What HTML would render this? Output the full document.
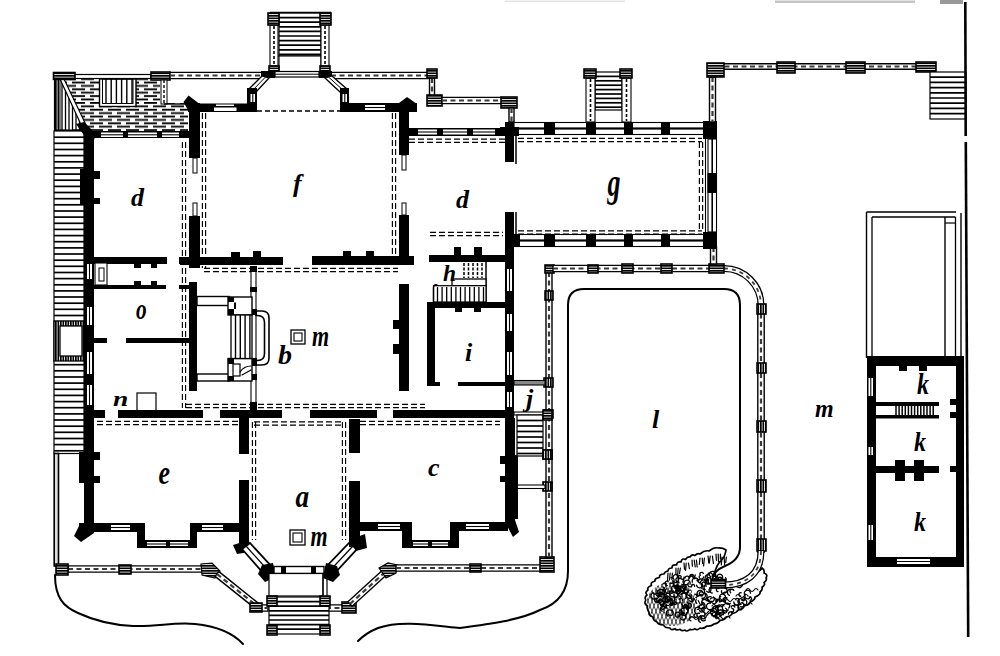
<!DOCTYPE html>
<html><head><meta charset="utf-8"><style>
html,body{margin:0;padding:0;background:#fff;width:1000px;height:656px;overflow:hidden}
svg{display:block}
text{font-family:"Liberation Serif",serif;font-style:italic;font-weight:bold;fill:#000}
</style></head><body>
<svg width="1000" height="656" viewBox="0 0 1000 656">
<defs>
<pattern id="hh" width="4" height="2.5" patternUnits="userSpaceOnUse"><rect width="4" height="2.5" fill="#fff"/><rect width="4" height="1.7" fill="#000"/></pattern>
<pattern id="hv" width="2.5" height="4" patternUnits="userSpaceOnUse"><rect width="2.5" height="4" fill="#fff"/><rect width="1.7" height="4" fill="#000"/></pattern>
<pattern id="ter" width="18" height="6.8" patternUnits="userSpaceOnUse"><rect width="18" height="6.8" fill="#fff"/><rect x="0" y="0" width="13" height="1.8" fill="#000"/><rect x="9" y="3.4" width="13" height="1.8" fill="#000"/><rect x="-9" y="3.4" width="13" height="1.8" fill="#000"/></pattern>
</defs>
<rect width="1000" height="656" fill="#fff"/>
<polygon points="58,78 188,78 188,131 58,131" fill="url(#ter)"/>
<rect x="160" y="79" width="29" height="24" fill="#fff"/>
<rect x="99.5" y="79" width="36.5" height="27.5" fill="#fff" stroke="#000" stroke-width="1.4"/>
<rect x="102.5" y="79" width="30.5" height="24.5" fill="none" stroke="#000" stroke-width="1.0"/>
<line x1="106" y1="79" x2="106" y2="103.5" stroke="#000" stroke-width="1.4"/>
<line x1="111.2" y1="79" x2="111.2" y2="103.5" stroke="#000" stroke-width="1.4"/>
<line x1="116.4" y1="79" x2="116.4" y2="103.5" stroke="#000" stroke-width="1.4"/>
<line x1="121.6" y1="79" x2="121.6" y2="103.5" stroke="#000" stroke-width="1.4"/>
<line x1="126.8" y1="79" x2="126.8" y2="103.5" stroke="#000" stroke-width="1.4"/>
<line x1="132" y1="79" x2="132" y2="103.5" stroke="#000" stroke-width="1.4"/>
<polygon points="54,78 62,79 86,129 54,130" fill="#fff"/>
<line x1="62" y1="82" x2="62" y2="130" stroke="#000" stroke-width="1.3"/>
<line x1="65.5" y1="89" x2="65.5" y2="130" stroke="#000" stroke-width="1.3"/>
<line x1="69" y1="96" x2="69" y2="130" stroke="#000" stroke-width="1.3"/>
<line x1="72.5" y1="103" x2="72.5" y2="130" stroke="#000" stroke-width="1.3"/>
<line x1="76" y1="110" x2="76" y2="130" stroke="#000" stroke-width="1.3"/>
<line x1="79.5" y1="117" x2="79.5" y2="130" stroke="#000" stroke-width="1.3"/>
<rect x="54" y="79" width="6" height="52" fill="url(#hv)"/>
<line x1="54.8" y1="74" x2="54.8" y2="131" stroke="#000" stroke-width="1.8"/>
<line x1="60" y1="79" x2="60" y2="131" stroke="#000" stroke-width="1.0"/>
<polygon points="60,79 64,79 87,127 83,129" fill="#fff" stroke="#000" stroke-width="1.2"/>
<rect x="74" y="74.5" width="77" height="4" fill="#fff" stroke="#000" stroke-width="1.2"/>
<rect x="53.5" y="72.5" width="21.5" height="6.9" fill="url(#hh)" stroke="#000" stroke-width="1.6"/>
<rect x="151" y="72" width="19" height="8" fill="url(#hh)" stroke="#000" stroke-width="1.6"/>
<rect x="161" y="80" width="6" height="24" fill="#fff" stroke="#000" stroke-width="1.0"/>
<line x1="164" y1="80" x2="164" y2="104" stroke="#000" stroke-width="1.4" stroke-dasharray="3 2"/>
<line x1="164" y1="104" x2="189" y2="104" stroke="#000" stroke-width="1.4"/>
<line x1="56" y1="130.8" x2="84" y2="130.8" stroke="#000" stroke-width="2.6"/>
<rect x="54" y="131" width="30" height="322.5" fill="#fff" stroke="#000" stroke-width="1.2"/>
<line x1="54" y1="137.2" x2="84" y2="137.2" stroke="#000" stroke-width="1.7"/>
<line x1="54" y1="143.3" x2="84" y2="143.3" stroke="#000" stroke-width="1.7"/>
<line x1="54" y1="149.5" x2="84" y2="149.5" stroke="#000" stroke-width="1.7"/>
<line x1="54" y1="155.6" x2="84" y2="155.6" stroke="#000" stroke-width="1.7"/>
<line x1="54" y1="161.8" x2="84" y2="161.8" stroke="#000" stroke-width="1.7"/>
<line x1="54" y1="167.9" x2="84" y2="167.9" stroke="#000" stroke-width="1.7"/>
<line x1="54" y1="174.1" x2="84" y2="174.1" stroke="#000" stroke-width="1.7"/>
<line x1="54" y1="180.2" x2="84" y2="180.2" stroke="#000" stroke-width="1.7"/>
<line x1="54" y1="186.4" x2="84" y2="186.4" stroke="#000" stroke-width="1.7"/>
<line x1="54" y1="192.5" x2="84" y2="192.5" stroke="#000" stroke-width="1.7"/>
<line x1="54" y1="198.7" x2="84" y2="198.7" stroke="#000" stroke-width="1.7"/>
<line x1="54" y1="204.8" x2="84" y2="204.8" stroke="#000" stroke-width="1.7"/>
<line x1="54" y1="211" x2="84" y2="211" stroke="#000" stroke-width="1.7"/>
<line x1="54" y1="217.1" x2="84" y2="217.1" stroke="#000" stroke-width="1.7"/>
<line x1="54" y1="223.3" x2="84" y2="223.3" stroke="#000" stroke-width="1.7"/>
<line x1="54" y1="229.4" x2="84" y2="229.4" stroke="#000" stroke-width="1.7"/>
<line x1="54" y1="235.6" x2="84" y2="235.6" stroke="#000" stroke-width="1.7"/>
<line x1="54" y1="241.7" x2="84" y2="241.7" stroke="#000" stroke-width="1.7"/>
<line x1="54" y1="247.9" x2="84" y2="247.9" stroke="#000" stroke-width="1.7"/>
<line x1="54" y1="254" x2="84" y2="254" stroke="#000" stroke-width="1.7"/>
<line x1="54" y1="260.2" x2="84" y2="260.2" stroke="#000" stroke-width="1.7"/>
<line x1="54" y1="266.3" x2="84" y2="266.3" stroke="#000" stroke-width="1.7"/>
<line x1="54" y1="272.5" x2="84" y2="272.5" stroke="#000" stroke-width="1.7"/>
<line x1="54" y1="278.6" x2="84" y2="278.6" stroke="#000" stroke-width="1.7"/>
<line x1="54" y1="284.8" x2="84" y2="284.8" stroke="#000" stroke-width="1.7"/>
<line x1="54" y1="290.9" x2="84" y2="290.9" stroke="#000" stroke-width="1.7"/>
<line x1="54" y1="297" x2="84" y2="297" stroke="#000" stroke-width="1.7"/>
<line x1="54" y1="303.2" x2="84" y2="303.2" stroke="#000" stroke-width="1.7"/>
<line x1="54" y1="309.3" x2="84" y2="309.3" stroke="#000" stroke-width="1.7"/>
<line x1="54" y1="315.5" x2="84" y2="315.5" stroke="#000" stroke-width="1.7"/>
<line x1="54" y1="321.6" x2="84" y2="321.6" stroke="#000" stroke-width="1.7"/>
<line x1="54" y1="327.8" x2="84" y2="327.8" stroke="#000" stroke-width="1.7"/>
<line x1="54" y1="333.9" x2="84" y2="333.9" stroke="#000" stroke-width="1.7"/>
<line x1="54" y1="340.1" x2="84" y2="340.1" stroke="#000" stroke-width="1.7"/>
<line x1="54" y1="346.2" x2="84" y2="346.2" stroke="#000" stroke-width="1.7"/>
<line x1="54" y1="352.4" x2="84" y2="352.4" stroke="#000" stroke-width="1.7"/>
<line x1="54" y1="358.5" x2="84" y2="358.5" stroke="#000" stroke-width="1.7"/>
<line x1="54" y1="364.7" x2="84" y2="364.7" stroke="#000" stroke-width="1.7"/>
<line x1="54" y1="370.8" x2="84" y2="370.8" stroke="#000" stroke-width="1.7"/>
<line x1="54" y1="377" x2="84" y2="377" stroke="#000" stroke-width="1.7"/>
<line x1="54" y1="383.1" x2="84" y2="383.1" stroke="#000" stroke-width="1.7"/>
<line x1="54" y1="389.3" x2="84" y2="389.3" stroke="#000" stroke-width="1.7"/>
<line x1="54" y1="395.4" x2="84" y2="395.4" stroke="#000" stroke-width="1.7"/>
<line x1="54" y1="401.6" x2="84" y2="401.6" stroke="#000" stroke-width="1.7"/>
<line x1="54" y1="407.7" x2="84" y2="407.7" stroke="#000" stroke-width="1.7"/>
<line x1="54" y1="413.9" x2="84" y2="413.9" stroke="#000" stroke-width="1.7"/>
<line x1="54" y1="420" x2="84" y2="420" stroke="#000" stroke-width="1.7"/>
<line x1="54" y1="426.2" x2="84" y2="426.2" stroke="#000" stroke-width="1.7"/>
<line x1="54" y1="432.3" x2="84" y2="432.3" stroke="#000" stroke-width="1.7"/>
<line x1="54" y1="438.5" x2="84" y2="438.5" stroke="#000" stroke-width="1.7"/>
<line x1="54" y1="444.6" x2="84" y2="444.6" stroke="#000" stroke-width="1.7"/>
<line x1="54" y1="450.8" x2="84" y2="450.8" stroke="#000" stroke-width="1.7"/>
<rect x="54" y="321" width="30" height="40" fill="url(#hv)"/>
<rect x="54" y="321" width="30" height="40" fill="none" stroke="#000" stroke-width="1.3"/>
<rect x="60" y="326" width="22" height="30" fill="#fff" stroke="#000" stroke-width="1.3"/>
<rect x="54.2" y="453.5" width="4.3" height="112.5" fill="#ddd" stroke="#000" stroke-width="1.6"/>
<polygon points="68,572.1 202,572.1 202,565.9 68,565.9" fill="#fff" stroke="#000" stroke-width="1.4"/>
<line x1="68" y1="569" x2="202" y2="569" stroke="#3a3a3a" stroke-width="2.2" stroke-dasharray="5 3.5"/>
<rect x="119" y="565" width="12" height="9" fill="url(#hh)" stroke="#000" stroke-width="1.6"/>
<rect x="56" y="564" width="12" height="11" fill="url(#hh)" stroke="#000" stroke-width="1.6"/>
<polygon points="201,564 212,563 220,571 215,578 202,575" fill="url(#hh)" stroke="#000" stroke-width="1.2"/>
<polygon points="215.1,576.4 255.1,608.4 258.9,603.6 218.9,571.6" fill="#fff" stroke="#000" stroke-width="1.4"/>
<line x1="217" y1="574" x2="257" y2="606" stroke="#3a3a3a" stroke-width="2.2" stroke-dasharray="5 3.5"/>
<polygon points="256,611.1 268,611.1 268,604.9 256,604.9" fill="#fff" stroke="#000" stroke-width="1.4"/>
<line x1="256" y1="608" x2="268" y2="608" stroke="#3a3a3a" stroke-width="2.2" stroke-dasharray="5 3.5"/>
<rect x="250" y="603" width="12" height="9" fill="url(#hh)" stroke="#000" stroke-width="1.6"/>
<polygon points="326,611.1 343,611.1 343,604.9 326,604.9" fill="#fff" stroke="#000" stroke-width="1.4"/>
<line x1="326" y1="608" x2="343" y2="608" stroke="#3a3a3a" stroke-width="2.2" stroke-dasharray="5 3.5"/>
<rect x="342" y="602" width="14" height="11" fill="url(#hh)" stroke="#000" stroke-width="1.6"/>
<polygon points="352.1,606.3 386.1,575.3 381.9,570.7 347.9,601.7" fill="#fff" stroke="#000" stroke-width="1.4"/>
<line x1="350" y1="604" x2="384" y2="573" stroke="#3a3a3a" stroke-width="2.2" stroke-dasharray="5 3.5"/>
<polygon points="379,568 388,563 397,565 396,573 386,578" fill="url(#hh)" stroke="#000" stroke-width="1.2"/>
<polygon points="396,571.1 543,571.1 543,564.9 396,564.9" fill="#fff" stroke="#000" stroke-width="1.4"/>
<line x1="396" y1="568" x2="543" y2="568" stroke="#3a3a3a" stroke-width="2.2" stroke-dasharray="5 3.5"/>
<rect x="470" y="564" width="11" height="8" fill="url(#hh)" stroke="#000" stroke-width="1.6"/>
<rect x="540" y="557" width="14" height="15" fill="url(#hh)" stroke="#000" stroke-width="1.6"/>
<polygon points="546,272 546,557 552,557 552,272" fill="#fff" stroke="#000" stroke-width="1.4"/>
<line x1="549" y1="272" x2="549" y2="557" stroke="#3a3a3a" stroke-width="2.2" stroke-dasharray="5 3.5"/>
<rect x="545" y="265" width="9" height="8" fill="url(#hh)" stroke="#000" stroke-width="1.6"/>
<rect x="545" y="291" width="8" height="9" fill="url(#hv)" stroke="#000" stroke-width="1.6"/>
<rect x="544" y="378" width="9" height="9" fill="url(#hv)" stroke="#000" stroke-width="1.6"/>
<rect x="544" y="410" width="9" height="8" fill="url(#hv)" stroke="#000" stroke-width="1.6"/>
<rect x="543" y="450" width="9" height="9" fill="url(#hv)" stroke="#000" stroke-width="1.6"/>
<rect x="543" y="482" width="9" height="9" fill="url(#hv)" stroke="#000" stroke-width="1.6"/>
<rect x="514" y="380.5" width="31" height="4.5" fill="#888" stroke="#000" stroke-width="1.1"/>
<rect x="514" y="412" width="31" height="3" fill="#fff" stroke="#000" stroke-width="1.1"/>
<rect x="515" y="485" width="30" height="3.5" fill="#fff" stroke="#000" stroke-width="1.1"/>
<path d="M646,600 Q643.8,597.6 647,595 Q644.5,592.3 648,590 Q646.7,587.3 651.5,585.5 Q650,582.4 655,581 Q654.5,578.2 659.5,577.5 Q658.8,574.2 664,574 Q664.7,571.6 668,571 Q668.1,567.9 672,568 Q671.9,564 676.5,565 Q677.1,561.2 681,562 Q681.7,557.8 685.5,559.5 Q687.1,556.6 690,557 Q691.9,553.9 695,555.5 Q697.3,552.8 700,554 Q704.6,549.9 709,551 Q714.1,546.9 718,548 Q722.6,547.6 726,550 Q725.9,551.8 724,557 Q723.2,557.4 720.5,561.5 Q720.3,560.8 717,566 Q717.4,565.8 715,571 Q714.9,571.9 713,576 Q717,575.5 717.3,580 Q720.9,580.9 721.7,584 Q726.3,584.9 726,588 Q730.8,586.6 732.3,586.3 Q736.9,585.1 738.7,584.7 Q744.9,582.9 745,583 Q748.9,580.5 749.2,579.2 Q753.2,576.7 753.5,575.5 Q758.8,572.3 757.8,571.8 Q762.8,568.5 762,568 Q764.9,569.7 764,573 Q768.3,574.4 766,578 Q767.5,579.7 764,582.7 Q765.8,584.5 762,587.3 Q762.9,589.5 760,592 Q760.9,594.4 755,597 Q755.4,599.7 750,602 Q750.4,604.6 744,606 Q744.1,609 738,610 Q736.9,612.7 732,613.5 Q730.8,616.5 726,617 Q724.2,620.1 720,620.5 Q717.9,623.8 714,624 Q711,626.6 707,626 Q703.6,629.1 700,628 Q697.1,631 695,628.7 Q692.1,630.4 690,629.3 Q686.4,632.3 685,630 Q681.4,631.5 680,629.3 Q676.2,630.7 675,628.7 Q670.4,630.7 670,628 Q664.9,628.1 663.5,625 Q658.5,624.7 657,622 Q652.8,620.6 653,617 Q648.3,615.5 649,612 Q646.7,609.4 647.5,606 Q643.3,603.4 646,600" fill="#fff" stroke="#000" stroke-width="1.7" stroke-linejoin="round"/>
<path d="M710.7,576.6 A1.9,1.9 0 1 1 707.8,574.4 M666.4,604.9 A1.8,1.8 0 1 1 663.2,603.3 M716.7,615.6 A2.3,2.3 0 1 1 712.7,613.3 M706.1,614.8 A3,3 0 1 1 700.3,615.6 M720,613.8 A2.4,2.4 0 1 1 718,609.6 M700.4,575.4 A1.8,1.8 0 1 1 703.3,573.4 M718,591.6 A1.7,1.7 0 1 1 719,588.5 M689,603.1 A2.5,2.5 0 1 1 687.6,607.7 M720.3,609.8 A2.8,2.8 0 1 1 719.7,615.3 M717.6,607.4 A1.8,1.8 0 1 1 721.1,606.7 M725.2,602.4 A2.4,2.4 0 1 1 725.3,597.6 M661.2,592.7 A2.7,2.7 0 1 1 656,593.2 M717.5,579 A2.7,2.7 0 1 1 721.9,581.9 M713.5,597 A2.8,2.8 0 1 1 708.8,599.6 M692.1,584.4 A2.1,2.1 0 1 1 688,584.4 M700.1,583.8 A3.5,3.5 0 1 1 706.9,584.6 M677.5,589.2 A2.7,2.7 0 1 1 682.8,588.3 M679.3,611.1 A1.5,1.5 0 1 1 682.1,612.2 M714.7,611.4 A3,3 0 1 1 717.5,606.1 M705.3,578.1 A2.6,2.6 0 1 1 710.3,577.9 M688.4,610.2 A1.6,1.6 0 1 1 689,607.2 M744.7,594.8 A3.1,3.1 0 1 1 750.5,593.2 M742.1,602.8 A2.1,2.1 0 1 1 740.6,606.6 M702.8,595.5 A2.2,2.2 0 1 1 701.1,591.6 M714.4,611.9 A2,2 0 1 1 712.2,615.1 M739.6,602 A2.9,2.9 0 1 1 733.8,601.8 M674.5,603.3 A2.9,2.9 0 1 1 671.5,598.3 M663.5,597.1 A1.8,1.8 0 1 1 665.6,600.1 M656.6,598.2 A3.3,3.3 0 1 1 653.3,592.7 M710.1,601.8 A2.6,2.6 0 1 1 711.1,596.8 M730.7,592.7 A2,2 0 1 1 733.8,590.4 M730.3,603.3 A2.8,2.8 0 1 1 726.2,599.5 M658.7,597.5 A3.3,3.3 0 1 1 665.1,597.9 M687,613.5 A3,3 0 1 1 681.9,610.6 M720.8,616.5 A2.7,2.7 0 1 1 724.8,612.9 M717.6,576.9 A1.8,1.8 0 1 1 715.4,579.6 M717.4,612.8 A3.2,3.2 0 1 1 723.4,614.6 M703.7,608.2 A2.4,2.4 0 1 1 699.6,610.6 M718.3,586 A1.7,1.7 0 1 1 717,582.9 M690.9,620.9 A2,2 0 1 1 692.2,617.2 M672.1,591.1 A3.3,3.3 0 1 1 677.3,587.1 M660.8,600 A2.8,2.8 0 1 1 660.6,605.6 M682.3,584.7 A3,3 0 1 1 682.5,590.5 M737.9,583 A2.6,2.6 0 1 1 732.8,582.4 M707.4,577.6 A1.6,1.6 0 1 1 704.5,579.1 M695.2,575 A1.6,1.6 0 1 1 692.1,575 M670.3,592 A2.6,2.6 0 1 1 666.5,588.7 M713.5,616.7 A1.5,1.5 0 1 1 716.3,618 M702.1,592.7 A2.8,2.8 0 1 1 701.9,598.1 M697.6,616.4 A1.7,1.7 0 1 1 699.5,613.5 M695.5,594.3 A1.6,1.6 0 1 1 695.9,597.5 M679.1,582.6 A2.3,2.3 0 1 1 681.6,578.7 M694.7,578.8 A1.5,1.5 0 1 1 697,580.7 M741.8,609.5 A2.6,2.6 0 1 1 740.3,604.7 M702.4,583.8 A3,3 0 1 1 696.6,585.1 M742.6,584.6 A3.5,3.5 0 1 1 736.3,582 M676.9,575.8 A3.5,3.5 0 1 1 672.3,580.8 M744.1,597.4 A1.8,1.8 0 1 1 741.8,600.1 M672.2,610.4 A2.9,2.9 0 1 1 667.8,614 M716.3,612.7 A1.5,1.5 0 1 1 719.2,613.5 M690,577.5 A2.1,2.1 0 1 1 693.6,575.3 M702.7,602.3 A3.5,3.5 0 1 1 698.9,607.9 M673.3,590.9 A2,2 0 1 1 669.4,590.9 M709.9,584 A2.3,2.3 0 1 1 708.7,579.6 M749.3,597 A1.7,1.7 0 1 1 750,600.3 M710.7,609.5 A3.3,3.3 0 1 1 710.4,603.1 M668.6,600.8 A1.9,1.9 0 1 1 665.3,598.8 M731.6,582.2 A2.6,2.6 0 1 1 727.1,584.3 M661.6,596.5 A1.9,1.9 0 1 1 660.9,592.9 M684.1,619.9 A3.4,3.4 0 1 1 684.4,613.4 M664.8,595.8 A3,3 0 1 1 664.2,601.7 M671,577.6 A2.9,2.9 0 1 1 670.2,583.2 M707,582.4 A2.7,2.7 0 1 1 711.3,579.4 M731.4,607 A1.7,1.7 0 1 1 734.8,607.2 M709.3,574.1 A3.2,3.2 0 1 1 715.3,576 M676.3,603.8 A2,2 0 1 1 673.5,601 M699.6,582.7 A1.6,1.6 0 1 1 699.6,579.5 M725.4,588.3 A2.3,2.3 0 1 1 723.8,592.6 M720.4,598.8 A1.5,1.5 0 1 1 719.5,601.7 M667.5,592.9 A2.9,2.9 0 1 1 663.3,589.1 M658.2,601.2 A2.2,2.2 0 1 1 662.6,601.4 M674.7,592.6 A2.6,2.6 0 1 1 674.4,597.7 M663.2,587.1 A1.5,1.5 0 1 1 662.3,589.9 M689.2,578.9 A2.1,2.1 0 1 1 693.3,578.4 M729.4,595.4 A3.3,3.3 0 1 1 732.5,589.6 M707.6,615.1 A2.2,2.2 0 1 1 711.9,615.7 M733.5,606.1 A3.2,3.2 0 1 1 737.1,611.2 M693,598.4 A2,2 0 1 1 689.7,600.6 M705.4,620 A2.7,2.7 0 1 1 702.1,615.8 M719.9,619.1 A3,3 0 1 1 721.2,613.4 M715.8,601.5 A1.8,1.8 0 1 1 719.3,602 M674.9,588.4 A3.3,3.3 0 1 1 680.5,591.7 M680.2,602.1 A3.4,3.4 0 1 1 676.1,596.8 M662.1,600.9 A2.7,2.7 0 1 1 657.4,598.4 M718.2,609.1 A2.3,2.3 0 1 1 721,605.5 M657.5,591.9 A3.5,3.5 0 1 1 663.7,594.9 M686.2,614.2 A1.8,1.8 0 1 1 683.1,612.5 M712.2,593 A3,3 0 1 1 713.4,587.3 M728.2,610 A3.5,3.5 0 1 1 724.6,604.2 M666.2,607.8 A2.7,2.7 0 1 1 667.2,602.6 M717.1,599 A3.2,3.2 0 1 1 711.1,601.1 M678,578.2 A1.8,1.8 0 1 1 681.3,577.1 M665.3,601.8 A3,3 0 1 1 659.6,600.7 M742.1,599.4 A3.2,3.2 0 1 1 743.9,605.4 M683.9,605.7 A2.9,2.9 0 1 1 687.5,610.2 M741.2,604.2 A2.8,2.8 0 1 1 741.5,598.8 M702.4,587.2 A3,3 0 1 1 707.1,583.8 M717.5,610.7 A2.9,2.9 0 1 1 712.7,607.6 M678.8,616 A1.6,1.6 0 1 1 675.7,615.2 M701.7,588.6 A3.1,3.1 0 1 1 700,594.4 M691.6,586.7 A1.6,1.6 0 1 1 694.6,586.4 M725.7,608.3 A2.6,2.6 0 1 1 722.3,612 M717.9,579.6 A2.1,2.1 0 1 1 713.9,578.7 M663.2,583.9 A1.5,1.5 0 1 1 665.9,585.3 M712.4,610.5 A3.1,3.1 0 1 1 718.5,609.7 M720,598.8 A3,3 0 1 1 725.4,596.5 M683,615.2 A2.1,2.1 0 1 1 684.1,619.2 M664.2,590 A2.8,2.8 0 1 1 659.1,591.9 M705.2,589.5 A1.8,1.8 0 1 1 706.4,586.1 M672.5,602.5 A1.7,1.7 0 1 1 669.9,604.6 M687.8,605.3 A3.2,3.2 0 1 1 682.3,602 M675.4,614.4 A2.2,2.2 0 1 1 679.6,615.3 M723.2,600.5 A2.4,2.4 0 1 1 720.7,596.6 M695.4,617.5 A2.2,2.2 0 1 1 698.4,620.7 M698,606.1 A1.7,1.7 0 1 1 697.3,609.4 M659.9,600.2 A2.8,2.8 0 1 1 654.8,598.1 M686.9,602 A3.2,3.2 0 1 1 682.6,606.6 M716.3,618.6 A2.4,2.4 0 1 1 719.1,614.7 M662.2,611.2 A2.4,2.4 0 1 1 663.8,606.7 M667.3,585.6 A2.3,2.3 0 1 1 668.3,581.2 M704.5,592.9 A3.3,3.3 0 1 1 702.2,599 M684,577 A1.8,1.8 0 1 1 680.5,577.8 M680.6,591.8 A1.9,1.9 0 1 1 676.7,591.4 M667.1,608.1 A1.5,1.5 0 1 1 668.6,605.5 M712.4,581.6 A2.1,2.1 0 1 1 708.7,580 M677.1,588.4 A1.7,1.7 0 1 1 677.7,585.2 M712.9,574.9 A2.1,2.1 0 1 1 715.1,578.5 M670.7,600.4 A2.1,2.1 0 1 1 670.5,604.5 M658.4,597.2 A3,3 0 1 1 664.2,597.8 M698.5,595.9 A3,3 0 1 1 702.6,591.7 M680.8,597.1 A2.8,2.8 0 1 1 683.7,592.5 M681.1,589.8 A2.8,2.8 0 1 1 678.2,585.2 M699.5,593.8 A1.7,1.7 0 1 1 696.3,594.7 M725.5,601.4 A2,2 0 1 1 726.9,597.8 M675.9,586.9 A1.8,1.8 0 1 1 677.1,590.3 M702.6,604.5 A2.9,2.9 0 1 1 707.1,601 M725.5,603.6 A2.7,2.7 0 1 1 728.7,608 M673.7,586.5 A2.9,2.9 0 1 1 672.1,592 M684.5,604.6 A1.7,1.7 0 1 1 683.4,607.7 M683.5,608.4 A2.8,2.8 0 1 1 686.3,613.2 M703.6,577 A2.2,2.2 0 1 1 699.3,576.2 M683.2,612.6 A2.2,2.2 0 1 1 684,608.3 M679.1,599.5 A1.7,1.7 0 1 1 682.4,600.6 M695.9,613.2 A3.2,3.2 0 1 1 699.5,607.9 M728.5,614.1 A2.1,2.1 0 1 1 732.7,613.9 M707.7,574.9 A2.4,2.4 0 1 1 712.2,576.3 M677.3,584.1 A2,2 0 1 1 673.5,583.5 M725,591.9 A1.8,1.8 0 1 1 721.7,590.7 M679.9,589.8 A3.2,3.2 0 1 1 686.2,590.2 M750.5,596.8 A2.9,2.9 0 1 1 745.4,594.2 M695.9,617.5 A1.9,1.9 0 1 1 696.2,613.7 M657,590.2 A2.4,2.4 0 1 1 652.8,592.4 M700.5,622.4 A3.5,3.5 0 1 1 704.6,617 M685,578 A2,2 0 1 1 688.7,579.1 M701.7,608.7 A1.9,1.9 0 1 1 701.6,605 M684,583.5 A3.1,3.1 0 1 1 690,584.3 M717.9,578 A2.1,2.1 0 1 1 720.7,581.1 M725.6,577.6 A2.9,2.9 0 1 1 720.5,579.8 M710.5,598.9 A3.3,3.3 0 1 1 714.7,603.8 M716.2,609.8 A2,2 0 1 1 718.8,606.7 M657.7,593.9 A3.5,3.5 0 1 1 661.7,599.3 M703.7,581.8 A2.2,2.2 0 1 1 702.7,586.1 M663.4,605.9 A1.8,1.8 0 1 1 661.4,608.8 M731.9,608.3 A1.8,1.8 0 1 1 731.1,611.7 M674.2,602.8 A2,2 0 1 1 670.2,602 M714.6,615.5 A3.5,3.5 0 1 1 714.9,608.7 M716.2,584.9 A2.9,2.9 0 1 1 721,582 M702.9,611.8 A2.2,2.2 0 1 1 702.1,616.1 M668,616.3 A3.4,3.4 0 1 1 672.2,611.1 M688.6,582.8 A2.9,2.9 0 1 1 684,579.6 M702.5,610.8 A2,2 0 1 1 705.6,608.5 M669.6,601 A1.5,1.5 0 1 1 672,599.3 M675.6,587.2 A2.6,2.6 0 1 1 677.1,592.1 M680.8,594.8 A3.1,3.1 0 1 1 685.6,598.5 M678.9,582 A2.4,2.4 0 1 1 678.6,577.3 M674.8,596 A3.3,3.3 0 1 1 671.8,590.3 M673.1,577.1 A2.9,2.9 0 1 1 678.5,578.8 M725.5,585.6 A2,2 0 1 1 729.2,584.3 M691.4,594.8 A2.4,2.4 0 1 1 687.2,597 M740.6,596.1 A1.7,1.7 0 1 1 741.2,592.8 M664.8,596.6 A3.2,3.2 0 1 1 667.5,602.2 M692.3,582.2 A3.3,3.3 0 1 1 698.7,580.7 M735.8,599 A1.9,1.9 0 1 1 738.8,601.4 M678.1,579.6 A2.3,2.3 0 1 1 673.6,580.9 M688.6,591.5 A2.3,2.3 0 1 1 684.9,589 M716,583.6 A2.6,2.6 0 1 1 714.6,578.6 M709.7,587.7 A2.4,2.4 0 1 1 706.7,591.3 M717.2,576.1 A2.8,2.8 0 1 1 722,578.8 M683.4,585.9 A2.8,2.8 0 1 1 678.8,588.9 M689.9,595.7 A2.8,2.8 0 1 1 690.6,590.2" fill="none" stroke="#000" stroke-width="1.3" stroke-linecap="round"/>
<path d="M668,573 l-0.5,7.8 M670.2,573 l-0.7,7 M672.4,573 l-0.5,6.5 M676,568 l-0.1,5.7 M678.2,568 l-0.6,7.9 M680.4,568 l-0.9,5.4 M684,563 l0.5,6.1 M686.2,563 l-0.6,7.3 M688.4,563 l1,5.6 M692,560 l0.4,6.2 M694.2,560 l1,6.8 M696.4,560 l0.8,7 M700,558 l-0.7,6.3 M702.2,558 l0.4,5.5 M704.4,558 l-0.8,8 M708,556 l0.8,7 M710.2,556 l-0.9,7.1 M712.4,556 l1,7.3 M716,554 l0.4,6.3 M718.2,554 l0.3,7.8 M720.4,554 l-0,5.2 M722,557 l-0.7,7.9 M724.2,557 l0.4,7.8 M726.4,557 l-0.7,5.3 M700,612 q2,-3 4,0 q2,3 4,0 q2,-3 4,0 M712,606 q2,-3 4,0 q2,3 4,0 q2,-3 4,0 M724,600 q2,-3 4,0 q2,3 4,0 q2,-3 4,0 M736,596 q2,-3 4,0 q2,3 4,0 q2,-3 4,0 M746,590 q2,-3 4,0 q2,3 4,0 q2,-3 4,0 M690,618 q2,-3 4,0 q2,3 4,0 q2,-3 4,0 M718,618 q2,-3 4,0 q2,3 4,0 q2,-3 4,0 M740,604 q2,-3 4,0 q2,3 4,0 q2,-3 4,0" fill="none" stroke="#000" stroke-width="1.2" stroke-linecap="round"/>
<clipPath id="bl"><ellipse cx="672" cy="604" rx="26" ry="22"/></clipPath>
<path clip-path="url(#bl)" d="M616,580 L636,632 M636,580 L616,632 M620,580 L640,632 M640,580 L620,632 M624,580 L644,632 M644,580 L624,632 M628,580 L648,632 M648,580 L628,632 M632,580 L652,632 M652,580 L632,632 M636,580 L656,632 M656,580 L636,632 M640,580 L660,632 M660,580 L640,632 M644,580 L664,632 M664,580 L644,632 M648,580 L668,632 M668,580 L648,632 M652,580 L672,632 M672,580 L652,632 M656,580 L676,632 M676,580 L656,632 M660,580 L680,632 M680,580 L660,632 M664,580 L684,632 M684,580 L664,632 M668,580 L688,632 M688,580 L668,632 M672,580 L692,632 M692,580 L672,632 M676,580 L696,632 M696,580 L676,632 M680,580 L700,632 M700,580 L680,632 M684,580 L704,632 M704,580 L684,632" stroke="#000" stroke-width="0.9" fill="none" opacity="0.8"/>
<line x1="690" y1="596" x2="693" y2="602" stroke="#000" stroke-width="1.1"/>
<line x1="694" y1="598" x2="697" y2="604" stroke="#000" stroke-width="1.1"/>
<line x1="698" y1="600" x2="701" y2="606" stroke="#000" stroke-width="1.1"/>
<line x1="702" y1="602" x2="705" y2="608" stroke="#000" stroke-width="1.1"/>
<polygon points="553,271.6 712,271.6 712,265.4 553,265.4" fill="#fff" stroke="#000" stroke-width="1.4"/>
<line x1="553" y1="268.5" x2="712" y2="268.5" stroke="#3a3a3a" stroke-width="2.2" stroke-dasharray="5 3.5"/>
<rect x="588" y="265" width="10" height="8" fill="url(#hh)" stroke="#000" stroke-width="1.6"/>
<rect x="622" y="264" width="11" height="9" fill="url(#hh)" stroke="#000" stroke-width="1.6"/>
<rect x="661" y="264" width="11" height="9" fill="url(#hh)" stroke="#000" stroke-width="1.6"/>
<path d="M724,268.5 A37,37 0 0 1 761,305.5" fill="none" stroke="#000" stroke-width="7"/>
<path d="M724,268.5 A37,37 0 0 1 761,305.5" fill="none" stroke="#fff" stroke-width="4.4"/>
<path d="M724,268.5 A37,37 0 0 1 761,305.5" fill="none" stroke="#000" stroke-width="1.8" stroke-dasharray="4 4" stroke-opacity="0.75"/>
<rect x="709" y="264" width="15" height="9" fill="url(#hh)" stroke="#000" stroke-width="1.6"/>
<polygon points="710.5,247 710.5,264 716.5,264 716.5,247" fill="#fff" stroke="#000" stroke-width="1.4"/>
<line x1="713.5" y1="247" x2="713.5" y2="264" stroke="#3a3a3a" stroke-width="2.2" stroke-dasharray="5 3.5"/>
<polygon points="757.8,305 757.8,552 764.2,552 764.2,305" fill="#fff" stroke="#000" stroke-width="1.4"/>
<line x1="761" y1="305" x2="761" y2="552" stroke="#3a3a3a" stroke-width="2.2" stroke-dasharray="5 3.5"/>
<rect x="757" y="304" width="9" height="10" fill="url(#hv)" stroke="#000" stroke-width="1.6"/>
<rect x="757" y="363" width="9" height="10" fill="url(#hv)" stroke="#000" stroke-width="1.6"/>
<rect x="757" y="421" width="9" height="11" fill="url(#hv)" stroke="#000" stroke-width="1.6"/>
<rect x="757" y="480" width="9" height="12" fill="url(#hv)" stroke="#000" stroke-width="1.6"/>
<rect x="757" y="539" width="9" height="12" fill="url(#hv)" stroke="#000" stroke-width="1.6"/>
<path d="M761,551 C761,575 745,585 724,585" fill="none" stroke="#000" stroke-width="7"/>
<path d="M761,551 C761,575 745,585 724,585" fill="none" stroke="#fff" stroke-width="4.4"/>
<path d="M761,551 C761,575 745,585 724,585" fill="none" stroke="#000" stroke-width="1.8" stroke-dasharray="4 4" stroke-opacity="0.75"/>
<rect x="711" y="579.5" width="14.5" height="8.5" fill="url(#hh)" stroke="#000" stroke-width="1.6"/>
<path d="M568,571 L568,305 Q568,289 584,289 L724,289 Q740,289 740,305 L740,547 Q740,560 725,566 Q713,571 712,580" fill="none" stroke="#000" stroke-width="2.0" stroke-linecap="round" stroke-linejoin="round"/>
<path d="M568,571 C568,595 555,605 540,610 C520,620 490,624 460,628 C430,625 400,620 378,628 C368,632 362,637 358,641" fill="none" stroke="#000" stroke-width="2.0" stroke-linecap="round" stroke-linejoin="round"/>
<polygon points="170,78.6 262,78.6 262,72.4 170,72.4" fill="#fff" stroke="#000" stroke-width="1.4"/>
<line x1="170" y1="75.5" x2="262" y2="75.5" stroke="#3a3a3a" stroke-width="2.2" stroke-dasharray="5 3.5"/>
<polygon points="331,78.6 428,78.6 428,72.4 331,72.4" fill="#fff" stroke="#000" stroke-width="1.4"/>
<line x1="331" y1="75.5" x2="428" y2="75.5" stroke="#3a3a3a" stroke-width="2.2" stroke-dasharray="5 3.5"/>
<rect x="279" y="13" width="42" height="43" fill="#fff" stroke="#000" stroke-width="1.2"/>
<line x1="279" y1="17.6" x2="321" y2="17.6" stroke="#000" stroke-width="1.7"/>
<line x1="279" y1="22.2" x2="321" y2="22.2" stroke="#000" stroke-width="1.7"/>
<line x1="279" y1="26.8" x2="321" y2="26.8" stroke="#000" stroke-width="1.7"/>
<line x1="279" y1="31.4" x2="321" y2="31.4" stroke="#000" stroke-width="1.7"/>
<line x1="279" y1="36" x2="321" y2="36" stroke="#000" stroke-width="1.7"/>
<line x1="279" y1="40.6" x2="321" y2="40.6" stroke="#000" stroke-width="1.7"/>
<line x1="279" y1="45.2" x2="321" y2="45.2" stroke="#000" stroke-width="1.7"/>
<line x1="279" y1="49.8" x2="321" y2="49.8" stroke="#000" stroke-width="1.7"/>
<line x1="279" y1="54.4" x2="321" y2="54.4" stroke="#000" stroke-width="1.7"/>
<rect x="279" y="56" width="42" height="16" fill="#fff" stroke="#000" stroke-width="1.1"/>
<line x1="270" y1="12.5" x2="331" y2="12.5" stroke="#000" stroke-width="1.6"/>
<rect x="270" y="25" width="8" height="41" fill="#fff" stroke="#000" stroke-width="1.1"/>
<line x1="274" y1="26" x2="274" y2="65" stroke="#000" stroke-width="1.6" stroke-dasharray="3 2"/>
<rect x="321" y="25" width="8" height="41" fill="#fff" stroke="#000" stroke-width="1.1"/>
<line x1="325" y1="26" x2="325" y2="65" stroke="#000" stroke-width="1.6" stroke-dasharray="3 2"/>
<rect x="268" y="13" width="11" height="12" fill="url(#hh)" stroke="#000" stroke-width="1.6"/>
<rect x="320" y="13" width="11" height="12" fill="url(#hh)" stroke="#000" stroke-width="1.6"/>
<rect x="269" y="66" width="10" height="7" fill="url(#hh)" stroke="#000" stroke-width="1.6"/>
<rect x="320" y="66" width="10" height="7" fill="url(#hh)" stroke="#000" stroke-width="1.6"/>
<rect x="261" y="71" width="14" height="7" fill="#000"/>
<rect x="319" y="71" width="13" height="7" fill="#000"/>
<rect x="275" y="71.5" width="44" height="5.5" fill="#fff" stroke="#000" stroke-width="1.2"/>
<line x1="275" y1="74.2" x2="319" y2="74.2" stroke="#000" stroke-width="1.0"/>
<polygon points="262,76 269,78 256,92 248,90" fill="#fff" stroke="#000" stroke-width="1.3"/>
<line x1="265.5" y1="77" x2="252" y2="91" stroke="#000" stroke-width="1.0"/>
<polygon points="332,76 325,78 340,92 348,90" fill="#fff" stroke="#000" stroke-width="1.3"/>
<line x1="328.5" y1="77" x2="344" y2="91" stroke="#000" stroke-width="1.0"/>
<rect x="247" y="88" width="10" height="24" fill="#000"/>
<rect x="250.5" y="94" width="4.5" height="8" fill="#fff"/>
<line x1="252.8" y1="94" x2="252.8" y2="102" stroke="#000" stroke-width="1.1"/>
<rect x="340" y="88" width="9" height="24" fill="#000"/>
<rect x="342.5" y="94" width="4.5" height="8" fill="#fff"/>
<line x1="344.8" y1="94" x2="344.8" y2="102" stroke="#000" stroke-width="1.1"/>
<polygon points="429.5,78 429.5,96 434.5,96 434.5,78" fill="#fff" stroke="#000" stroke-width="1.4"/>
<line x1="432" y1="78" x2="432" y2="96" stroke="#3a3a3a" stroke-width="2.2" stroke-dasharray="5 3.5"/>
<rect x="427" y="69" width="10" height="9" fill="url(#hh)" stroke="#000" stroke-width="1.6"/>
<rect x="427" y="95" width="15" height="11" fill="url(#hh)" stroke="#000" stroke-width="1.6"/>
<polygon points="442,103.6 502,103.6 502,97.4 442,97.4" fill="#fff" stroke="#000" stroke-width="1.4"/>
<line x1="442" y1="100.5" x2="502" y2="100.5" stroke="#3a3a3a" stroke-width="2.2" stroke-dasharray="5 3.5"/>
<rect x="501" y="97" width="16" height="11" fill="url(#hh)" stroke="#000" stroke-width="1.6"/>
<polygon points="509,108 509,122 514,122 514,108" fill="#fff" stroke="#000" stroke-width="1.4"/>
<line x1="511.5" y1="108" x2="511.5" y2="122" stroke="#3a3a3a" stroke-width="2.2" stroke-dasharray="5 3.5"/>
<rect x="188" y="103.5" width="69" height="8.5" fill="#000"/>
<rect x="214" y="107.5" width="22.5" height="3.5" fill="#fff"/>
<rect x="216" y="104.5" width="18" height="1.5" fill="#fff"/>
<polygon points="183.5,102 188.5,95.5 199,103.5 200,112 189,112" fill="#000"/>
<rect x="340" y="103" width="77" height="9" fill="#000"/>
<rect x="365" y="105" width="20" height="5" fill="#fff"/>
<line x1="365" y1="107.5" x2="385" y2="107.5" stroke="#000" stroke-width="1.1"/>
<polygon points="399,103 407,97 417,104 409,112 399,112" fill="#000"/>
<rect x="189" y="103" width="11" height="55" fill="#000"/>
<rect x="193" y="158" width="4" height="15" fill="#fff" stroke="#000" stroke-width="1.0"/>
<rect x="193" y="203" width="4" height="13" fill="#fff" stroke="#000" stroke-width="1.0"/>
<rect x="189" y="216" width="11" height="52" fill="#000"/>
<rect x="399" y="103" width="10" height="52" fill="#000"/>
<rect x="402" y="155" width="4" height="15" fill="#fff" stroke="#000" stroke-width="1.0"/>
<rect x="402" y="203" width="4" height="12" fill="#fff" stroke="#000" stroke-width="1.0"/>
<rect x="399" y="215" width="10" height="49" fill="#000"/>
<rect x="180" y="257" width="103" height="8" fill="#000"/>
<rect x="231" y="252" width="9" height="5" fill="#000"/>
<rect x="253" y="251" width="8" height="6" fill="#000"/>
<rect x="312" y="256" width="102" height="9" fill="#000"/>
<rect x="343" y="251" width="8" height="5" fill="#000"/>
<rect x="366" y="251" width="8" height="5" fill="#000"/>
<line x1="257" y1="111" x2="340" y2="111" stroke="#000" stroke-width="1.5" stroke-dasharray="5 3"/>
<line x1="202.4" y1="113" x2="202.4" y2="268" stroke="#000" stroke-width="1.15" stroke-dasharray="6 3"/>
<line x1="205.6" y1="113" x2="205.6" y2="268" stroke="#000" stroke-width="1.15" stroke-dasharray="6 3"/>
<line x1="392.4" y1="113" x2="392.4" y2="255" stroke="#000" stroke-width="1.15" stroke-dasharray="6 3"/>
<line x1="395.6" y1="113" x2="395.6" y2="255" stroke="#000" stroke-width="1.15" stroke-dasharray="6 3"/>
<line x1="182.4" y1="142" x2="182.4" y2="408" stroke="#000" stroke-width="1.15" stroke-dasharray="6 3"/>
<line x1="185.6" y1="142" x2="185.6" y2="408" stroke="#000" stroke-width="1.15" stroke-dasharray="6 3"/>
<line x1="204" y1="271.6" x2="398" y2="271.6" stroke="#000" stroke-width="1.15" stroke-dasharray="6 3"/>
<line x1="204" y1="268.4" x2="398" y2="268.4" stroke="#000" stroke-width="1.15" stroke-dasharray="6 3"/>
<line x1="186" y1="407.6" x2="425" y2="407.6" stroke="#000" stroke-width="1.15" stroke-dasharray="6 3"/>
<line x1="186" y1="404.4" x2="425" y2="404.4" stroke="#000" stroke-width="1.15" stroke-dasharray="6 3"/>
<rect x="84" y="131" width="105" height="7" fill="#000"/>
<rect x="101" y="132.5" width="22" height="4.5" fill="#fff"/>
<line x1="101" y1="134.8" x2="123" y2="134.8" stroke="#000" stroke-width="1.1"/>
<rect x="128" y="132.5" width="29" height="4.5" fill="#fff"/>
<line x1="128" y1="134.8" x2="157" y2="134.8" stroke="#000" stroke-width="1.1"/>
<rect x="162" y="132.5" width="17" height="4.5" fill="#fff"/>
<line x1="162" y1="134.8" x2="179" y2="134.8" stroke="#000" stroke-width="1.1"/>
<polygon points="76,124 84,122 96,134 94,140 86,138" fill="#000"/>
<rect x="84" y="131" width="10" height="401" fill="#000"/>
<rect x="80" y="169" width="14" height="35" fill="#000"/>
<rect x="94" y="171" width="6" height="8" fill="#000"/>
<rect x="94" y="198" width="6" height="6" fill="#000"/>
<rect x="87" y="264" width="5" height="15" fill="#fff"/>
<line x1="89.5" y1="264" x2="89.5" y2="279" stroke="#000" stroke-width="1.1"/>
<rect x="87" y="307" width="5" height="18" fill="#fff"/>
<line x1="89.5" y1="307" x2="89.5" y2="325" stroke="#000" stroke-width="1.1"/>
<rect x="87" y="352" width="5" height="22" fill="#fff"/>
<line x1="89.5" y1="352" x2="89.5" y2="374" stroke="#000" stroke-width="1.1"/>
<rect x="87" y="385" width="5" height="20" fill="#fff"/>
<line x1="89.5" y1="385" x2="89.5" y2="405" stroke="#000" stroke-width="1.1"/>
<rect x="94" y="257" width="73" height="7" fill="#000"/>
<rect x="134" y="264" width="7" height="4" fill="#000"/>
<rect x="151" y="264" width="6" height="4" fill="#000"/>
<rect x="179" y="257" width="21" height="7" fill="#000"/>
<rect x="179" y="285" width="11" height="4" fill="#000"/>
<rect x="94" y="285" width="72" height="4" fill="#000"/>
<rect x="134" y="281" width="7" height="4" fill="#000"/>
<rect x="151" y="281" width="6" height="4" fill="#000"/>
<rect x="95" y="263" width="12" height="22" fill="#fff" stroke="#000" stroke-width="1.1"/>
<rect x="99" y="268" width="5" height="13" fill="none" stroke="#000" stroke-width="1.0"/>
<rect x="94" y="338" width="13" height="5" fill="#000"/>
<rect x="126" y="338" width="64" height="5" fill="#000"/>
<rect x="137" y="393" width="19" height="18" fill="#fff" stroke="#000" stroke-width="1.2"/>
<rect x="189" y="282" width="8" height="109" fill="#000"/>
<rect x="84" y="410" width="21" height="8" fill="#000"/>
<rect x="118" y="410" width="85" height="8" fill="#000"/>
<rect x="220" y="410" width="62" height="8" fill="#000"/>
<rect x="310" y="410" width="67" height="8" fill="#000"/>
<rect x="393" y="410" width="118" height="8" fill="#000"/>
<rect x="251" y="266" width="5" height="149" fill="#fff"/>
<line x1="251" y1="266" x2="251" y2="415" stroke="#000" stroke-width="1.1"/>
<line x1="256" y1="266" x2="256" y2="415" stroke="#000" stroke-width="1.1"/>
<rect x="250" y="266" width="7" height="6" fill="#000"/>
<rect x="250" y="287" width="7" height="5" fill="#000"/>
<rect x="250" y="309" width="7" height="6" fill="#000"/>
<rect x="250" y="358" width="7" height="8" fill="#000"/>
<rect x="250" y="374" width="7" height="6" fill="#000"/>
<rect x="250" y="402" width="7" height="13" fill="#000"/>
<rect x="197" y="296.5" width="32" height="9" fill="#fff" stroke="#000" stroke-width="1.4"/>
<rect x="197" y="374" width="32" height="7" fill="#fff" stroke="#000" stroke-width="1.4"/>
<rect x="228" y="297" width="24" height="18" fill="#fff" stroke="#000" stroke-width="1.4"/>
<rect x="228" y="297" width="6" height="5" fill="#000"/>
<rect x="228" y="309" width="6" height="6" fill="#000"/>
<rect x="234" y="302.5" width="2" height="6.5" fill="#000"/>
<rect x="228" y="358.5" width="24" height="22.5" fill="#fff" stroke="#000" stroke-width="1.4"/>
<rect x="228" y="358.5" width="6" height="5.5" fill="#000"/>
<rect x="228" y="376" width="6" height="5" fill="#000"/>
<rect x="233" y="364" width="7" height="12" fill="none" stroke="#000" stroke-width="1.2"/>
<path d="M240,372 Q244,366 251,366 M242,375 L251,370" fill="none" stroke="#000" stroke-width="1.2" stroke-linecap="round" stroke-linejoin="round"/>
<rect x="231" y="315" width="21" height="43.5" fill="#fff" stroke="#000" stroke-width="1.3"/>
<line x1="235.5" y1="315" x2="235.5" y2="358.5" stroke="#000" stroke-width="1.4"/>
<line x1="240.3" y1="315" x2="240.3" y2="358.5" stroke="#000" stroke-width="1.4"/>
<line x1="245.1" y1="315" x2="245.1" y2="358.5" stroke="#000" stroke-width="1.4"/>
<line x1="249.9" y1="315" x2="249.9" y2="358.5" stroke="#000" stroke-width="1.4"/>
<path d="M256,311 L262,311 Q269,311 269,318 L269,358 Q269,365 262,365 L256,365" fill="none" stroke="#000" stroke-width="1.6" stroke-linecap="round" stroke-linejoin="round"/>
<path d="M256,315.5 L257.5,315.5 Q264.5,315.5 264.5,322.5 L264.5,353.5 Q264.5,360.5 257.5,360.5 L256,360.5" fill="none" stroke="#000" stroke-width="1.6" stroke-linecap="round" stroke-linejoin="round"/>
<rect x="291" y="330" width="14" height="14" fill="#fff" stroke="#000" stroke-width="1.3"/>
<rect x="294" y="333" width="8" height="8" fill="none" stroke="#000" stroke-width="1.1"/>
<rect x="399" y="284" width="10" height="107" fill="#000"/>
<rect x="393" y="320" width="6" height="9" fill="#000"/>
<rect x="393" y="344" width="6" height="10" fill="#000"/>
<rect x="409" y="128" width="103" height="8" fill="#000"/>
<rect x="418" y="129.5" width="19" height="5" fill="#fff"/>
<line x1="418" y1="132" x2="437" y2="132" stroke="#000" stroke-width="1.1"/>
<rect x="443" y="129.5" width="24" height="5" fill="#fff"/>
<line x1="443" y1="132" x2="467" y2="132" stroke="#000" stroke-width="1.1"/>
<rect x="473" y="129.5" width="22" height="5" fill="#fff"/>
<line x1="473" y1="132" x2="495" y2="132" stroke="#000" stroke-width="1.1"/>
<line x1="409" y1="142.4" x2="506" y2="142.4" stroke="#000" stroke-width="1.2" stroke-dasharray="6 3"/>
<line x1="409" y1="139.2" x2="506" y2="139.2" stroke="#000" stroke-width="1.2" stroke-dasharray="6 3"/>
<rect x="505" y="122" width="9" height="40" fill="#000"/>
<rect x="505" y="212" width="9" height="208" fill="#000"/>
<rect x="507" y="269" width="5" height="22" fill="#fff"/>
<line x1="509.5" y1="269" x2="509.5" y2="291" stroke="#000" stroke-width="1.1"/>
<rect x="507" y="314" width="5" height="17" fill="#fff"/>
<line x1="509.5" y1="314" x2="509.5" y2="331" stroke="#000" stroke-width="1.1"/>
<rect x="507" y="352" width="5" height="23" fill="#fff"/>
<line x1="509.5" y1="352" x2="509.5" y2="375" stroke="#000" stroke-width="1.1"/>
<rect x="507" y="392" width="5" height="15" fill="#fff"/>
<line x1="509.5" y1="392" x2="509.5" y2="407" stroke="#000" stroke-width="1.1"/>
<rect x="429" y="255" width="78" height="7" fill="#000"/>
<rect x="454" y="247" width="7" height="8" fill="#000"/>
<rect x="474" y="247" width="8" height="8" fill="#000"/>
<line x1="430" y1="235.6" x2="503" y2="235.6" stroke="#000" stroke-width="1.15" stroke-dasharray="6 3"/>
<line x1="430" y1="232.4" x2="503" y2="232.4" stroke="#000" stroke-width="1.15" stroke-dasharray="6 3"/>
<line x1="486" y1="262" x2="486" y2="302" stroke="#000" stroke-width="1.5"/>
<line x1="464" y1="263" x2="464" y2="278" stroke="#000" stroke-width="1.5" stroke-dasharray="3 1.5"/>
<line x1="468.5" y1="263" x2="468.5" y2="278" stroke="#000" stroke-width="1.5" stroke-dasharray="3 1.5"/>
<line x1="473" y1="263" x2="473" y2="278" stroke="#000" stroke-width="1.5" stroke-dasharray="3 1.5"/>
<line x1="477.5" y1="263" x2="477.5" y2="278" stroke="#000" stroke-width="1.5" stroke-dasharray="3 1.5"/>
<line x1="482" y1="263" x2="482" y2="278" stroke="#000" stroke-width="1.5" stroke-dasharray="3 1.5"/>
<rect x="452" y="279" width="34" height="6.7" fill="#fff" stroke="#000" stroke-width="1.3"/>
<rect x="433.5" y="285.7" width="52.5" height="16.3" fill="#fff" stroke="#000" stroke-width="1.2"/>
<line x1="437.5" y1="287" x2="437.5" y2="302" stroke="#000" stroke-width="1.3"/>
<line x1="442.1" y1="287" x2="442.1" y2="302" stroke="#000" stroke-width="1.3"/>
<line x1="446.7" y1="287" x2="446.7" y2="302" stroke="#000" stroke-width="1.3"/>
<line x1="451.3" y1="287" x2="451.3" y2="302" stroke="#000" stroke-width="1.3"/>
<line x1="455.9" y1="287" x2="455.9" y2="302" stroke="#000" stroke-width="1.3"/>
<line x1="460.5" y1="287" x2="460.5" y2="302" stroke="#000" stroke-width="1.3"/>
<line x1="465.1" y1="287" x2="465.1" y2="302" stroke="#000" stroke-width="1.3"/>
<line x1="469.7" y1="287" x2="469.7" y2="302" stroke="#000" stroke-width="1.3"/>
<line x1="474.3" y1="287" x2="474.3" y2="302" stroke="#000" stroke-width="1.3"/>
<line x1="478.9" y1="287" x2="478.9" y2="302" stroke="#000" stroke-width="1.3"/>
<line x1="483.5" y1="287" x2="483.5" y2="302" stroke="#000" stroke-width="1.3"/>
<path d="M433.5,302 L433.5,288 Q433.5,284 437,285" fill="none" stroke="#000" stroke-width="1.4" stroke-linecap="round" stroke-linejoin="round"/>
<rect x="427" y="302" width="81" height="6" fill="#000"/>
<rect x="455" y="308" width="7" height="4" fill="#000"/>
<rect x="474" y="308" width="7" height="4" fill="#000"/>
<rect x="427" y="302" width="8" height="84" fill="#000"/>
<rect x="427" y="382" width="13" height="4" fill="#000"/>
<rect x="458" y="382" width="47" height="4" fill="#000"/>
<rect x="514" y="122.5" width="198" height="12" fill="#fff" stroke="#000" stroke-width="1.1"/>
<rect x="514" y="127.4" width="198" height="2.2" fill="#000"/>
<rect x="544" y="122" width="11" height="13" fill="#000"/>
<rect x="586" y="122" width="10" height="13" fill="#000"/>
<rect x="624" y="122" width="9" height="13" fill="#000"/>
<rect x="661" y="122" width="9" height="13" fill="#000"/>
<rect x="500" y="127" width="19" height="9" fill="#000"/>
<rect x="514" y="234.5" width="198" height="12" fill="#fff" stroke="#000" stroke-width="1.1"/>
<rect x="514" y="239.4" width="198" height="2.2" fill="#000"/>
<rect x="544" y="234" width="11" height="13" fill="#000"/>
<rect x="586" y="234" width="10" height="13" fill="#000"/>
<rect x="624" y="234" width="9" height="13" fill="#000"/>
<rect x="661" y="234" width="9" height="13" fill="#000"/>
<rect x="703" y="121" width="14" height="18" fill="#000"/>
<rect x="703" y="232" width="14" height="17" fill="#000"/>
<rect x="505" y="234" width="15" height="13" fill="#000"/>
<rect x="708" y="139" width="8.5" height="93" fill="#fff" stroke="#000" stroke-width="1.1"/>
<line x1="712.2" y1="139" x2="712.2" y2="232" stroke="#000" stroke-width="1.6"/>
<rect x="707.5" y="173" width="9.5" height="20" fill="#000"/>
<line x1="705.5" y1="135" x2="705.5" y2="235" stroke="#000" stroke-width="1.1"/>
<line x1="518" y1="141.6" x2="702" y2="141.6" stroke="#000" stroke-width="1.2" stroke-dasharray="6 3"/>
<line x1="518" y1="138.4" x2="702" y2="138.4" stroke="#000" stroke-width="1.2" stroke-dasharray="6 3"/>
<line x1="518" y1="234.1" x2="702" y2="234.1" stroke="#000" stroke-width="1.2" stroke-dasharray="6 3"/>
<line x1="518" y1="230.9" x2="702" y2="230.9" stroke="#000" stroke-width="1.2" stroke-dasharray="6 3"/>
<line x1="699.4" y1="142" x2="699.4" y2="231" stroke="#000" stroke-width="1.2" stroke-dasharray="6 3"/>
<line x1="702.6" y1="142" x2="702.6" y2="231" stroke="#000" stroke-width="1.2" stroke-dasharray="6 3"/>
<rect x="505" y="212" width="9" height="50" fill="#000"/>
<line x1="516" y1="135" x2="516" y2="164" stroke="#000" stroke-width="1.5"/>
<line x1="516" y1="212" x2="516" y2="234" stroke="#000" stroke-width="1.5"/>
<rect x="595" y="72" width="27" height="38" fill="#fff" stroke="#000" stroke-width="1.2"/>
<line x1="595" y1="76.4" x2="622" y2="76.4" stroke="#000" stroke-width="1.7"/>
<line x1="595" y1="80.8" x2="622" y2="80.8" stroke="#000" stroke-width="1.7"/>
<line x1="595" y1="85.2" x2="622" y2="85.2" stroke="#000" stroke-width="1.7"/>
<line x1="595" y1="89.6" x2="622" y2="89.6" stroke="#000" stroke-width="1.7"/>
<line x1="595" y1="94" x2="622" y2="94" stroke="#000" stroke-width="1.7"/>
<line x1="595" y1="98.4" x2="622" y2="98.4" stroke="#000" stroke-width="1.7"/>
<line x1="595" y1="102.8" x2="622" y2="102.8" stroke="#000" stroke-width="1.7"/>
<line x1="595" y1="107.2" x2="622" y2="107.2" stroke="#000" stroke-width="1.7"/>
<rect x="586" y="78" width="9" height="44" fill="#fff" stroke="#000" stroke-width="1.1"/>
<line x1="590.5" y1="79" x2="590.5" y2="121" stroke="#000" stroke-width="1.6" stroke-dasharray="3 2"/>
<rect x="622" y="78" width="9" height="44" fill="#fff" stroke="#000" stroke-width="1.1"/>
<line x1="626.5" y1="79" x2="626.5" y2="121" stroke="#000" stroke-width="1.6" stroke-dasharray="3 2"/>
<rect x="584" y="69" width="12" height="9" fill="url(#hh)" stroke="#000" stroke-width="1.6"/>
<rect x="620" y="69" width="12" height="9" fill="url(#hh)" stroke="#000" stroke-width="1.6"/>
<polygon points="709.5,77 709.5,122 715.5,122 715.5,77" fill="#fff" stroke="#000" stroke-width="1.4"/>
<line x1="712.5" y1="77" x2="712.5" y2="122" stroke="#3a3a3a" stroke-width="2.2" stroke-dasharray="5 3.5"/>
<polygon points="716,69.2 930,69.2 930,63.8 716,63.8" fill="#fff" stroke="#000" stroke-width="1.4"/>
<line x1="716" y1="66.5" x2="930" y2="66.5" stroke="#3a3a3a" stroke-width="2.2" stroke-dasharray="5 3.5"/>
<rect x="707" y="63" width="17" height="14" fill="url(#hh)" stroke="#000" stroke-width="1.6"/>
<rect x="777" y="62" width="18" height="11" fill="url(#hh)" stroke="#000" stroke-width="1.6"/>
<rect x="846" y="62" width="19" height="11" fill="url(#hh)" stroke="#000" stroke-width="1.6"/>
<rect x="916" y="62" width="20" height="10" fill="url(#hh)" stroke="#000" stroke-width="1.6"/>
<rect x="930" y="72" width="36" height="47" fill="#fff" stroke="#000" stroke-width="1.2"/>
<line x1="930" y1="77.2" x2="966" y2="77.2" stroke="#000" stroke-width="1.7"/>
<line x1="930" y1="82.4" x2="966" y2="82.4" stroke="#000" stroke-width="1.7"/>
<line x1="930" y1="87.6" x2="966" y2="87.6" stroke="#000" stroke-width="1.7"/>
<line x1="930" y1="92.8" x2="966" y2="92.8" stroke="#000" stroke-width="1.7"/>
<line x1="930" y1="98" x2="966" y2="98" stroke="#000" stroke-width="1.7"/>
<line x1="930" y1="103.2" x2="966" y2="103.2" stroke="#000" stroke-width="1.7"/>
<line x1="930" y1="108.4" x2="966" y2="108.4" stroke="#000" stroke-width="1.7"/>
<line x1="930" y1="113.6" x2="966" y2="113.6" stroke="#000" stroke-width="1.7"/>
<line x1="965.3" y1="2" x2="965.7" y2="136" stroke="#000" stroke-width="2.6"/>
<line x1="965.8" y1="142" x2="968.2" y2="637" stroke="#000" stroke-width="2.6"/>
<line x1="866.5" y1="212" x2="956" y2="212" stroke="#000" stroke-width="1.4"/>
<line x1="866.5" y1="212" x2="866.5" y2="358" stroke="#000" stroke-width="1.4"/>
<line x1="961" y1="213" x2="961" y2="358" stroke="#000" stroke-width="1.4"/>
<line x1="872" y1="217" x2="955.5" y2="217" stroke="#000" stroke-width="1.4"/>
<line x1="872" y1="217" x2="872" y2="358" stroke="#000" stroke-width="1.3"/>
<line x1="955.5" y1="217" x2="955.5" y2="358" stroke="#000" stroke-width="1.3"/>
<line x1="945" y1="217" x2="945" y2="356" stroke="#000" stroke-width="1.4"/>
<line x1="945" y1="223" x2="955.5" y2="223" stroke="#000" stroke-width="1.2"/>
<rect x="867" y="356" width="97" height="10" fill="#000"/>
<rect x="867" y="356" width="9" height="211" fill="#000"/>
<rect x="956" y="356" width="8" height="211" fill="#000"/>
<rect x="867" y="557" width="97" height="10" fill="#000"/>
<rect x="899" y="366" width="8" height="5" fill="#000"/>
<rect x="919" y="366" width="8" height="5" fill="#000"/>
<rect x="868.5" y="378" width="4.5" height="18" fill="#fff"/>
<line x1="870.8" y1="378" x2="870.8" y2="396" stroke="#000" stroke-width="1.1"/>
<rect x="868.5" y="447" width="4.5" height="8" fill="#fff"/>
<line x1="870.8" y1="447" x2="870.8" y2="455" stroke="#000" stroke-width="1.1"/>
<rect x="868.5" y="525" width="4.5" height="15" fill="#fff"/>
<line x1="870.8" y1="525" x2="870.8" y2="540" stroke="#000" stroke-width="1.1"/>
<rect x="875" y="402" width="64" height="4" fill="#000"/>
<rect x="875" y="415" width="64" height="3.5" fill="#000"/>
<line x1="896" y1="406" x2="896" y2="415" stroke="#000" stroke-width="1.5"/>
<line x1="899.1" y1="406" x2="899.1" y2="415" stroke="#000" stroke-width="1.5"/>
<line x1="902.2" y1="406" x2="902.2" y2="415" stroke="#000" stroke-width="1.5"/>
<line x1="905.3" y1="406" x2="905.3" y2="415" stroke="#000" stroke-width="1.5"/>
<line x1="908.4" y1="406" x2="908.4" y2="415" stroke="#000" stroke-width="1.5"/>
<line x1="911.5" y1="406" x2="911.5" y2="415" stroke="#000" stroke-width="1.5"/>
<line x1="914.6" y1="406" x2="914.6" y2="415" stroke="#000" stroke-width="1.5"/>
<line x1="917.7" y1="406" x2="917.7" y2="415" stroke="#000" stroke-width="1.5"/>
<line x1="920.8" y1="406" x2="920.8" y2="415" stroke="#000" stroke-width="1.5"/>
<line x1="923.9" y1="406" x2="923.9" y2="415" stroke="#000" stroke-width="1.5"/>
<line x1="927" y1="406" x2="927" y2="415" stroke="#000" stroke-width="1.5"/>
<line x1="930.1" y1="406" x2="930.1" y2="415" stroke="#000" stroke-width="1.5"/>
<line x1="933.2" y1="406" x2="933.2" y2="415" stroke="#000" stroke-width="1.5"/>
<rect x="950" y="399" width="6" height="6" fill="#000"/>
<rect x="950" y="412" width="6" height="6" fill="#000"/>
<rect x="872" y="466" width="67" height="7" fill="#000"/>
<rect x="895" y="460" width="10" height="21" fill="#000"/>
<rect x="914" y="460" width="10" height="21" fill="#000"/>
<rect x="950" y="466" width="6" height="6" fill="#000"/>
<rect x="897" y="559" width="33" height="5" fill="#fff"/>
<line x1="897" y1="561.5" x2="930" y2="561.5" stroke="#000" stroke-width="1.1"/>
<rect x="79" y="523" width="66" height="9" fill="#000"/>
<rect x="137" y="523" width="8" height="25" fill="#000"/>
<rect x="137" y="540" width="60" height="8" fill="#000"/>
<rect x="190" y="523" width="7" height="25" fill="#000"/>
<rect x="190" y="523" width="50" height="9" fill="#000"/>
<rect x="111" y="525" width="19" height="5" fill="#fff"/>
<line x1="111" y1="527.5" x2="130" y2="527.5" stroke="#000" stroke-width="1.1"/>
<rect x="147" y="542" width="19" height="4" fill="#fff"/>
<line x1="147" y1="544" x2="166" y2="544" stroke="#000" stroke-width="1.1"/>
<rect x="170" y="542" width="18" height="4" fill="#fff"/>
<line x1="170" y1="544" x2="188" y2="544" stroke="#000" stroke-width="1.1"/>
<rect x="202" y="525" width="21" height="5" fill="#fff"/>
<line x1="202" y1="527.5" x2="223" y2="527.5" stroke="#000" stroke-width="1.1"/>
<rect x="79" y="452" width="15" height="31" fill="#000"/>
<rect x="94" y="452" width="6" height="8" fill="#000"/>
<rect x="94" y="476" width="6" height="7" fill="#000"/>
<polygon points="80,524 94,524 94,533 81,542 74,536" fill="#000"/>
<rect x="239" y="417" width="10" height="37" fill="#000"/>
<rect x="239" y="480" width="10" height="67" fill="#000"/>
<polygon points="233,545 249,540 250,552 237,554" fill="#000"/>
<line x1="97" y1="424.6" x2="240" y2="424.6" stroke="#000" stroke-width="1.15" stroke-dasharray="6 3"/>
<line x1="97" y1="421.4" x2="240" y2="421.4" stroke="#000" stroke-width="1.15" stroke-dasharray="6 3"/>
<line x1="252.4" y1="422" x2="252.4" y2="540" stroke="#000" stroke-width="1.15" stroke-dasharray="6 3"/>
<line x1="255.6" y1="422" x2="255.6" y2="540" stroke="#000" stroke-width="1.15" stroke-dasharray="6 3"/>
<polygon points="242,549 250,543 272,567 264,574" fill="#fff" stroke="#000" stroke-width="1.8"/>
<line x1="246" y1="546" x2="268" y2="570.5" stroke="#000" stroke-width="1.2"/>
<polygon points="357,549 349,543 326,567 334,574" fill="#fff" stroke="#000" stroke-width="1.8"/>
<line x1="353" y1="546" x2="330" y2="570.5" stroke="#000" stroke-width="1.2"/>
<polygon points="262,565 273,563 276,577 265,582 258,574" fill="#000"/>
<polygon points="326,563 337,566 340,575 333,582 323,578" fill="#000"/>
<rect x="274" y="566.5" width="50" height="7" fill="#fff" stroke="#000" stroke-width="1.4"/>
<rect x="281" y="566.5" width="5" height="7" fill="#000"/>
<rect x="311" y="566.5" width="5" height="7" fill="#000"/>
<rect x="269" y="573.5" width="54" height="22.5" fill="#fff" stroke="#000" stroke-width="1.2"/>
<line x1="323" y1="574" x2="323" y2="596" stroke="#000" stroke-width="1.2"/>
<line x1="327" y1="574" x2="327" y2="596" stroke="#000" stroke-width="1.2"/>
<rect x="269" y="597" width="60" height="37" fill="#fff" stroke="#000" stroke-width="1.2"/>
<line x1="269" y1="601.6" x2="329" y2="601.6" stroke="#000" stroke-width="1.7"/>
<line x1="269" y1="606.2" x2="329" y2="606.2" stroke="#000" stroke-width="1.7"/>
<line x1="269" y1="610.8" x2="329" y2="610.8" stroke="#000" stroke-width="1.7"/>
<line x1="269" y1="615.4" x2="329" y2="615.4" stroke="#000" stroke-width="1.7"/>
<line x1="269" y1="620" x2="329" y2="620" stroke="#000" stroke-width="1.7"/>
<line x1="269" y1="624.6" x2="329" y2="624.6" stroke="#000" stroke-width="1.7"/>
<line x1="269" y1="629.2" x2="329" y2="629.2" stroke="#000" stroke-width="1.7"/>
<rect x="267" y="596" width="10" height="10" fill="url(#hh)" stroke="#000" stroke-width="1.6"/>
<rect x="320" y="596" width="10" height="10" fill="url(#hh)" stroke="#000" stroke-width="1.6"/>
<rect x="267" y="625" width="10" height="10" fill="url(#hh)" stroke="#000" stroke-width="1.6"/>
<rect x="320" y="625" width="10" height="10" fill="url(#hh)" stroke="#000" stroke-width="1.6"/>
<rect x="349" y="419" width="11" height="34" fill="#000"/>
<rect x="349" y="481" width="11" height="66" fill="#000"/>
<polygon points="349,540 365,534 367,548 356,551" fill="#000"/>
<line x1="342.4" y1="422" x2="342.4" y2="540" stroke="#000" stroke-width="1.15" stroke-dasharray="6 3"/>
<line x1="345.6" y1="422" x2="345.6" y2="540" stroke="#000" stroke-width="1.15" stroke-dasharray="6 3"/>
<line x1="254" y1="425.1" x2="344" y2="425.1" stroke="#000" stroke-width="1.15" stroke-dasharray="6 3"/>
<line x1="254" y1="421.9" x2="344" y2="421.9" stroke="#000" stroke-width="1.15" stroke-dasharray="6 3"/>
<rect x="360" y="522" width="52" height="9" fill="#000"/>
<rect x="402" y="522" width="10" height="26" fill="#000"/>
<rect x="402" y="540" width="57" height="8" fill="#000"/>
<rect x="450" y="522" width="9" height="26" fill="#000"/>
<rect x="450" y="522" width="58" height="9" fill="#000"/>
<rect x="378" y="524" width="22" height="5" fill="#fff"/>
<line x1="378" y1="526.5" x2="400" y2="526.5" stroke="#000" stroke-width="1.1"/>
<rect x="413" y="542" width="15" height="4" fill="#fff"/>
<line x1="413" y1="544" x2="428" y2="544" stroke="#000" stroke-width="1.1"/>
<rect x="432" y="542" width="16" height="4" fill="#fff"/>
<line x1="432" y1="544" x2="448" y2="544" stroke="#000" stroke-width="1.1"/>
<rect x="466" y="524" width="23" height="5" fill="#fff"/>
<line x1="466" y1="526.5" x2="489" y2="526.5" stroke="#000" stroke-width="1.1"/>
<rect x="505" y="418" width="10" height="110" fill="#000"/>
<rect x="506" y="455" width="12" height="64" fill="#000"/>
<rect x="500" y="456" width="6" height="8" fill="#000"/>
<rect x="500" y="476" width="6" height="6" fill="#000"/>
<polygon points="505,522 515,520 519,532 513,537" fill="#000"/>
<line x1="360" y1="424.6" x2="500" y2="424.6" stroke="#000" stroke-width="1.15" stroke-dasharray="6 3"/>
<line x1="360" y1="421.4" x2="500" y2="421.4" stroke="#000" stroke-width="1.15" stroke-dasharray="6 3"/>
<rect x="517" y="415" width="26" height="41" fill="#fff" stroke="#000" stroke-width="1.2"/>
<line x1="517" y1="420.5" x2="543" y2="420.5" stroke="#000" stroke-width="1.7"/>
<line x1="517" y1="426" x2="543" y2="426" stroke="#000" stroke-width="1.7"/>
<line x1="517" y1="431.5" x2="543" y2="431.5" stroke="#000" stroke-width="1.7"/>
<line x1="517" y1="437" x2="543" y2="437" stroke="#000" stroke-width="1.7"/>
<line x1="517" y1="442.5" x2="543" y2="442.5" stroke="#000" stroke-width="1.7"/>
<line x1="517" y1="448" x2="543" y2="448" stroke="#000" stroke-width="1.7"/>
<line x1="517" y1="453.5" x2="543" y2="453.5" stroke="#000" stroke-width="1.7"/>
<rect x="543" y="410" width="9" height="10" fill="url(#hh)" stroke="#000" stroke-width="1.6"/>
<rect x="543" y="450" width="9" height="9" fill="url(#hv)" stroke="#000" stroke-width="1.6"/>
<text x="131" y="206" font-size="26">d</text>
<text x="293" y="192" font-size="26">f</text>
<text x="456" y="207.5" font-size="26">d</text>
<text transform="translate(607.5,196) scale(1,1.5)" x="0" y="0" font-size="26">g</text>
<text transform="translate(136,319) scale(0.82,1.1)" x="0" y="0" font-size="26">o</text>
<text x="465" y="361" font-size="26">i</text>
<text x="443" y="281" font-size="23.5">h</text>
<text x="526" y="407" font-size="26">j</text>
<text x="278" y="364" font-size="28">b</text>
<text transform="translate(312,345.5) scale(1,1.3)" x="0" y="0" font-size="22">m</text>
<text transform="translate(310.5,545.5) scale(1,1.35)" x="0" y="0" font-size="22">m</text>
<text transform="translate(295.5,507) scale(1.05,1.2)" x="0" y="0" font-size="26">a</text>
<text x="428" y="475.5" font-size="26">c</text>
<text transform="translate(158.5,484) scale(1,1.3)" x="0" y="0" font-size="26">e</text>
<text transform="translate(113,406) scale(1.25,1)" x="0" y="0" font-size="22">n</text>
<text x="652" y="428" font-size="26">l</text>
<text transform="translate(815,416.5) scale(1,1.05)" x="0" y="0" font-size="24">m</text>
<text transform="translate(917,394) scale(1,1.2)" x="0" y="0" font-size="24">k</text>
<text transform="translate(914,451) scale(1,1.1)" x="0" y="0" font-size="24">k</text>
<text transform="translate(914,531) scale(1,1.1)" x="0" y="0" font-size="24">k</text>
<path d="M55,575 C55,598 64,607 78,613 C93,620 110,625 133,626 C158,627 172,622 195,624 C214,626 232,632 243,644" fill="none" stroke="#000" stroke-width="2.0" stroke-linecap="round" stroke-linejoin="round"/>
<rect x="290" y="530" width="15" height="15" fill="#fff" stroke="#000" stroke-width="1.3"/>
<rect x="293" y="533" width="9" height="9" fill="none" stroke="#000" stroke-width="1.1"/>
<rect x="505" y="0.5" width="120" height="1.5" fill="#e4e4e4"/>
<rect x="775" y="0.5" width="140" height="2.5" fill="#c4c4c4"/>
<rect x="940" y="0" width="23" height="4" fill="#999"/>
</svg>
</body></html>
